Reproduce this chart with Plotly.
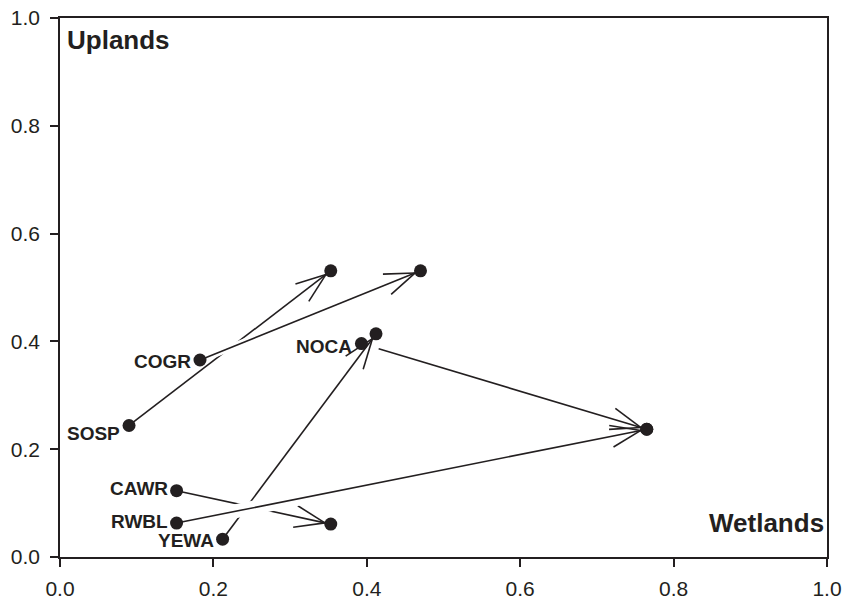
import math
import plotly.graph_objects as go

# ---------------- data ----------------
species = ["SOSP", "COGR", "NOCA", "CAWR", "RWBL", "YEWA"]
start_x = [0.090, 0.1825, 0.393, 0.152, 0.152, 0.212]
start_y = [0.244, 0.3655, 0.396, 0.123, 0.063, 0.033]
end_x = [0.353, 0.470, 0.765, 0.353, 0.765, 0.412]
end_y = [0.531, 0.531, 0.237, 0.061, 0.237, 0.414]
x_ticks = [0.0, 0.2, 0.4, 0.6, 0.8, 1.0]
y_ticks = [0.0, 0.2, 0.4, 0.6, 0.8, 1.0]
corner_top = "Uplands"
corner_bottom = "Wetlands"

# ---------------- style ----------------
INK = "#231f20"
FONT = "Liberation Sans, Arial, sans-serif"
W, H = 843, 600
ML, MR, MT, MB = 60, 16, 18, 43
PW, PH = W - ML - MR, H - MT - MB
XR = [0.0, 1.0]
YR = [0.0, 1.0]
draw_order = [0, 2, 3, 5, 1, 4]          # stacking order of arrows
halo_px = [0, 7, 0, 0, 14, 0]            # white under-stroke that breaks lines below
tail_trim_px = [0, 0, 18, 0, 0, 4]
label_dy = [-8, -1, -3, 2, 2, -1]        # vertical nudges of the species labels (px)
TIP_TRIM = 6
HEAD_LEN = 32
HEAD_ANG = math.radians(20)
LINE_W = 1.6


def to_px(x, y):
    return ((x - XR[0]) / (XR[1] - XR[0]) * PW, (y - YR[0]) / (YR[1] - YR[0]) * PH)


def to_data(px, py):
    return (XR[0] + px / PW * (XR[1] - XR[0]), YR[0] + py / PH * (YR[1] - YR[0]))


fig = go.Figure()

for i in draw_order:
    p0 = to_px(start_x[i], start_y[i])
    p1 = to_px(end_x[i], end_y[i])
    dx, dy = p1[0] - p0[0], p1[1] - p0[1]
    L = math.hypot(dx, dy)
    ux, uy = dx / L, dy / L
    tail = (p0[0] + ux * tail_trim_px[i], p0[1] + uy * tail_trim_px[i])
    tip = (p1[0] - ux * TIP_TRIM, p1[1] - uy * TIP_TRIM)

    if halo_px[i]:
        h0 = (p0[0] + ux * 14, p0[1] + uy * 14)
        h1 = (p1[0] - ux * 90, p1[1] - uy * 90)
        a = to_data(*h0)
        b = to_data(*h1)
        fig.add_trace(go.Scatter(x=[a[0], b[0]], y=[a[1], b[1]], mode="lines",
                                 line=dict(color="white", width=halo_px[i]),
                                 hoverinfo="skip", showlegend=False))

    xs, ys = [], []
    a = to_data(*tail)
    b = to_data(*tip)
    xs += [a[0], b[0], None]
    ys += [a[1], b[1], None]
    for s in (1, -1):
        c, sn = math.cos(s * HEAD_ANG), math.sin(s * HEAD_ANG)
        bx = -ux * c + uy * sn
        by = -uy * c - ux * sn
        e = to_data(tip[0] + bx * HEAD_LEN, tip[1] + by * HEAD_LEN)
        xs += [b[0], e[0], None]
        ys += [b[1], e[1], None]
    fig.add_trace(go.Scatter(x=xs, y=ys, mode="lines",
                             line=dict(color=INK, width=LINE_W),
                             hoverinfo="skip", showlegend=False))

fig.add_trace(go.Scatter(x=start_x + end_x, y=start_y + end_y, mode="markers",
                         marker=dict(color=INK, size=13),
                         hoverinfo="skip", showlegend=False))

label_font = dict(family=FONT, size=19, color=INK, weight="bold")
for i, name in enumerate(species):
    fig.add_annotation(x=start_x[i], y=start_y[i], text=name, showarrow=False,
                       xanchor="right", yanchor="middle", xshift=-7, yshift=label_dy[i],
                       font=label_font)

corner_font = dict(family=FONT, size=26, color=INK, weight="bold")
fig.add_annotation(xref="paper", yref="paper", x=0, y=1, text=corner_top, showarrow=False,
                   xanchor="left", yanchor="top", xshift=5, yshift=-5, font=corner_font)
fig.add_annotation(xref="paper", yref="paper", x=1, y=0, text=corner_bottom, showarrow=False,
                   xanchor="right", yanchor="bottom", xshift=-1, yshift=17, font=corner_font)

axis_common = dict(showline=True, linecolor=INK, linewidth=1.5, mirror=True,
                   ticks="outside", ticklen=8, tickwidth=1.5, tickcolor=INK,
                   showgrid=False, zeroline=False, tickformat=".1f", automargin=False,
                   ticklabeloverflow="allow",
                   tickfont=dict(family=FONT, size=21, color=INK))
fig.update_xaxes(range=XR, tickvals=x_ticks, ticklabelstandoff=4, **axis_common)
fig.update_yaxes(range=YR, tickvals=y_ticks, ticklabelstandoff=6, **axis_common)

fig.update_layout(width=W, height=H, margin=dict(l=ML, r=MR, t=MT, b=MB, autoexpand=False),
                  plot_bgcolor="white", paper_bgcolor="white", showlegend=False)

fig.write_html("out.html", config={"displayModeBar": False},
               post_script="document.body.style.margin='0';document.body.style.overflow='hidden';")
